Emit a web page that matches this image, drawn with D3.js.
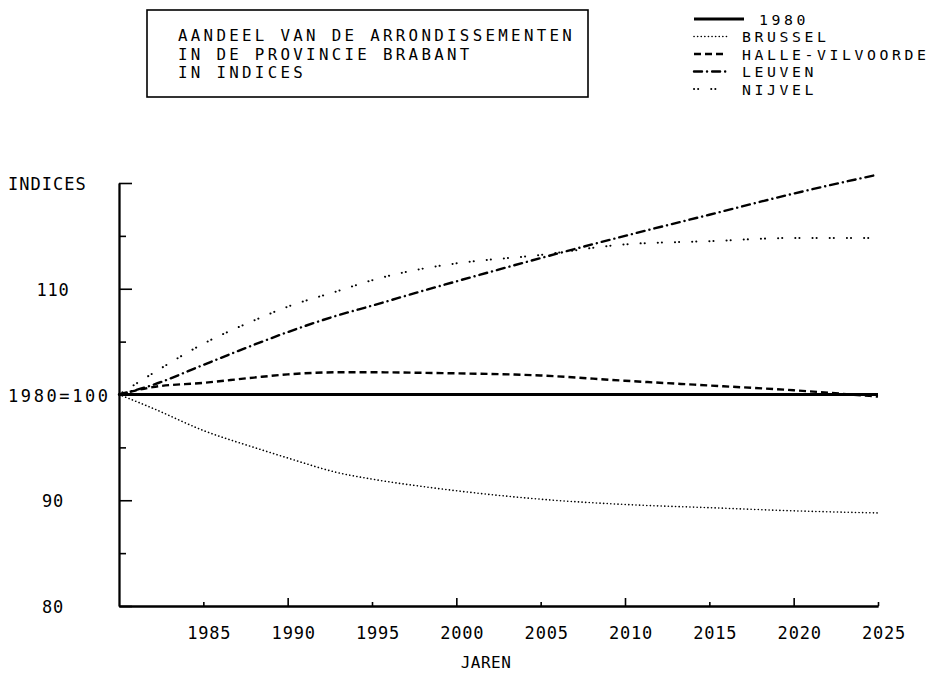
<!DOCTYPE html>
<html><head><meta charset="utf-8">
<script src="https://cdn.jsdelivr.net/npm/d3@7"></script>
<style>
body{margin:0;background:#fff}
svg{display:block}
text{font-family:"DejaVu Sans Mono","Liberation Mono",monospace;fill:#000}
</style></head>
<body><svg id="chart" width="944" height="676"></svg>
<script>
// ---- data ----
const years   = [1980, 1982, 1985, 1988, 1990, 1993, 1995, 1998, 2000, 2005, 2010, 2015, 2020, 2025];
const base1980= [100, 100, 100, 100, 100, 100, 100, 100, 100, 100, 100, 100, 100, 100];
const brussel = [100, 98.7, 96.6, 95.0, 94.0, 92.6, 92.0, 91.3, 90.9, 90.1, 89.6, 89.3, 89.0, 88.8];
const halle   = [100, 100.7, 101.1, 101.6, 101.9, 102.1, 102.1, 102.05, 102.0, 101.8, 101.3, 100.85, 100.4, 99.8];
const leuven  = [100, 100.9, 102.8, 104.7, 105.9, 107.5, 108.4, 109.8, 110.7, 112.9, 115.0, 117.0, 119.0, 120.8];
const nijvel  = [100, 102.0, 104.8, 107.0, 108.3, 109.8, 110.8, 111.9, 112.4, 113.2, 114.2, 114.5, 114.8, 114.8];
const seriesNames = ["1980", "BRUSSEL", "HALLE-VILVOORDE", "LEUVEN", "NIJVEL"];
const titleLines = ["AANDEEL VAN DE ARRONDISSEMENTEN", "IN DE PROVINCIE BRABANT", "IN INDICES"];
const yLabelValues = [80, 90, 100, 110, 120];
const yLabelTexts  = ["80", "90", "1980=100", "110", "INDICES"];
const yMinorValues = [85, 95, 105, 115];
const xTickValues  = [1985, 1990, 1995, 2000, 2005, 2010, 2015, 2020, 2025];
const xAxisTitle = "JAREN";

// ---- layout ----
const svg = d3.select("#chart");
const x = d3.scaleLinear().domain([1980, 2025]).range([119, 878]);
const y = d3.scaleLinear().domain([80, 120]).range([606, 183]);

const styles = {
  "1980":            {w: 3.2, dash: null,          cap: "butt",  sampleLen: 50},
  "BRUSSEL":         {w: 1.6, dash: "0.1 3.5",     cap: "round", sampleLen: 33},
  "HALLE-VILVOORDE": {w: 2.4, dash: "7 4",         cap: "butt",  sampleLen: 33},
  "LEUVEN":          {w: 2.4, dash: "8 5 0.1 5",   cap: "round", sampleLen: 33},
  "NIJVEL":          {w: 2.0, dash: "0.1 4 0.1 13",cap: "round", sampleLen: 33}
};
const seriesData = [base1980, brussel, halle, leuven, nijvel];

// title box
const tb = svg.append("g");
tb.append("rect").attr("x", 147).attr("y", 10).attr("width", 441).attr("height", 87)
  .attr("fill", "none").attr("stroke", "#000").attr("stroke-width", 1.6);
tb.selectAll("text").data(titleLines).join("text")
  .attr("x", 178).attr("y", (d, i) => 41 + i * 18.5)
  .attr("font-size", 15.8).attr("letter-spacing", 3.3).text(d => d);

// legend
const lg = svg.append("g");
seriesNames.forEach((name, i) => {
  const s = styles[name];
  const cy = 19 + i * 17.5;
  lg.append("line").attr("x1", 694).attr("x2", 694 + s.sampleLen)
    .attr("y1", cy).attr("y2", cy)
    .attr("stroke", "#000").attr("stroke-width", s.w)
    .attr("stroke-dasharray", s.dash).attr("stroke-linecap", s.cap);
  lg.append("text").attr("x", 694 + s.sampleLen + 15).attr("y", cy + 5.5)
    .attr("font-size", 14.8).attr("letter-spacing", 3.6).text(name);
});

// axes
const axG = svg.append("g");
const yMajor = d3.axisLeft(y).tickValues(yLabelValues).tickSize(-13).tickSizeOuter(0).tickFormat("");
const yMinor = d3.axisLeft(y).tickValues(yMinorValues).tickSize(-7).tickSizeOuter(0).tickFormat("");
axG.append("g").attr("transform", `translate(${x(1980)},0)`).call(yMajor);
axG.append("g").attr("transform", `translate(${x(1980)},0)`).call(yMinor);

const decade = xTickValues.filter(v => v % 10 === 0);
const half = xTickValues.filter(v => v % 10 !== 0);
const xMajor = d3.axisBottom(x).tickValues(decade).tickSize(-8).tickSizeOuter(0).tickFormat("");
const xMinor = d3.axisBottom(x).tickValues(half).tickSize(-4).tickSizeOuter(0).tickFormat("");
axG.append("g").attr("transform", `translate(0,${y(80)})`).call(xMajor);
axG.append("g").attr("transform", `translate(0,${y(80)})`).call(xMinor);
axG.selectAll("path.domain").attr("stroke-width", 1.8);
axG.selectAll(".tick line").attr("stroke-width", 1.6);

// x tick labels
svg.append("g").selectAll("text").data(xTickValues).join("text")
  .attr("x", d => x(d) + 6).attr("y", y(80) + 33)
  .attr("text-anchor", "middle").attr("font-size", 17).attr("letter-spacing", 0.8)
  .text(d => String(d));
svg.append("text").attr("x", 486).attr("y", 668).attr("text-anchor", "middle")
  .attr("font-size", 16).attr("letter-spacing", 0.5).text(xAxisTitle);

// y labels
svg.append("g").selectAll("text").data(yLabelValues).join("text")
  .attr("x", (d, i) => yLabelTexts[i].length > 3 ? 8 : 53)
  .attr("text-anchor", (d, i) => yLabelTexts[i].length > 3 ? "start" : "middle")
  .attr("y", d => y(d) + 7)
  .attr("font-size", 17)
  .attr("letter-spacing", (d, i) => yLabelTexts[i].includes("=") ? 2.6 : (yLabelTexts[i].length > 3 ? 1.0 : 0.8))
  .text((d, i) => yLabelTexts[i]);

// lines
const line = d3.line().x((d, i) => x(years[i])).y(d => y(d)).curve(d3.curveMonotoneX);
const order = [1, 2, 3, 4, 0];
order.forEach(k => {
  const s = styles[seriesNames[k]];
  svg.append("path").datum(seriesData[k])
    .attr("d", line).attr("fill", "none").attr("stroke", "#000")
    .attr("stroke-width", s.w).attr("stroke-dasharray", s.dash)
    .attr("stroke-linecap", s.cap);
});
</script></body></html>
